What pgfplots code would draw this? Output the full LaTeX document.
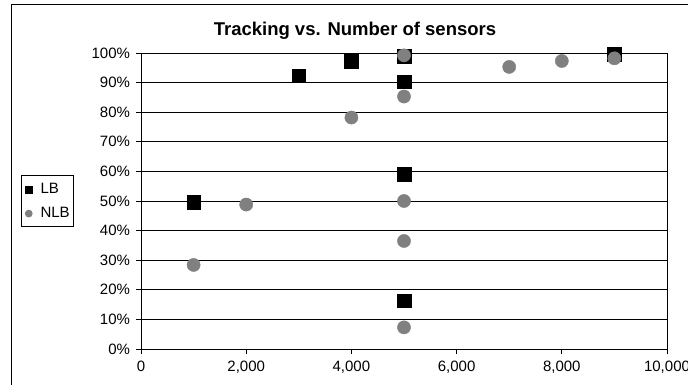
\documentclass[border=0pt]{standalone}
\usepackage{pgfplots}
\pgfplotsset{compat=1.18}
\usepackage{fontspec}
\setmainfont{Liberation Sans}
\definecolor{nlbgray}{RGB}{128,128,128}
\pgfplotsset{
  mylegimg/.style={legend image code/.code={\draw[##1, only marks] plot coordinates {(0bp,3.8bp)};}}
}
\begin{document}
\begin{tikzpicture}
\path[use as bounding box, clip] (-141bp,-36bp) rectangle (547bp,349bp);
\draw[black, line width=1bp] (-129bp,344bp) rectangle (570bp,-60bp);
\begin{axis}[
  at={(0,0)}, anchor=south west,
  scale only axis,
  width=526bp, height=296bp,
  xmin=0, xmax=10000, ymin=0, ymax=100,
  xtick={0,2000,...,10000},
  ytick={0,10,...,100},
  scaled x ticks=false,
  xtick pos=bottom, ytick pos=left,
  tick align=outside,
  major tick length=5bp,
  ymajorgrids,
  grid style={black, line width=0.9bp},
  axis line style={black, line width=0.9bp},
  every tick/.style={black, line width=0.9bp},
  /pgf/number format/assume math mode=true,
  /pgf/number format/.cd, 1000 sep={,},
  /pgfplots/.cd,
  yticklabel={\pgfmathprintnumber{\tick}\%},
  tick label style={font=\fontsize{15bp}{18bp}\selectfont, black},
  xticklabel style={yshift=-4bp},
  yticklabel style={xshift=-2.5bp},
  title={\textbf{Tracking vs. Number of sensors}},
  title style={font=\fontsize{18.5bp}{22bp}\selectfont, at={(0.4068,1.038)}, anchor=base, inner sep=0pt},
  mylegimg,
  legend style={
    at={(-0.2287,0.5878)}, anchor=north west,
    draw=black, line width=0.9bp,
    font=\fontsize{15bp}{18bp}\selectfont,
    inner xsep=3.8bp, inner ysep=8bp,
    nodes={inner sep=0bp, anchor=base west},
    row sep=11.8bp,
    /tikz/every odd column/.append style={column sep=8bp},
    legend cell align=left,
  },
]
\addplot[only marks, mark=square*, mark size=6.8bp, black, mark options={fill=black, draw=black},
  legend image post style={mark size=3.8bp}]
coordinates {
(1000,49.6) (3000,92.3) (4000,97.3) (5000,99.0) (5000,90.3) (5000,59.1) (5000,16.3) (9000,99.6)
};
\addlegendentry{LB}
\addplot[only marks, mark=*, mark size=6.6bp, nlbgray, mark options={fill=nlbgray, draw=nlbgray},
  legend image post style={mark size=3.4bp}]
coordinates {
(1000,28.4) (2000,48.8) (4000,78.2) (5000,99.2) (5000,85.3) (5000,50.0) (5000,36.5) (5000,7.3) (7000,95.3) (8000,97.3) (9000,98.2)
};
\addlegendentry{NLB}
\end{axis}
\end{tikzpicture}
\end{document}
